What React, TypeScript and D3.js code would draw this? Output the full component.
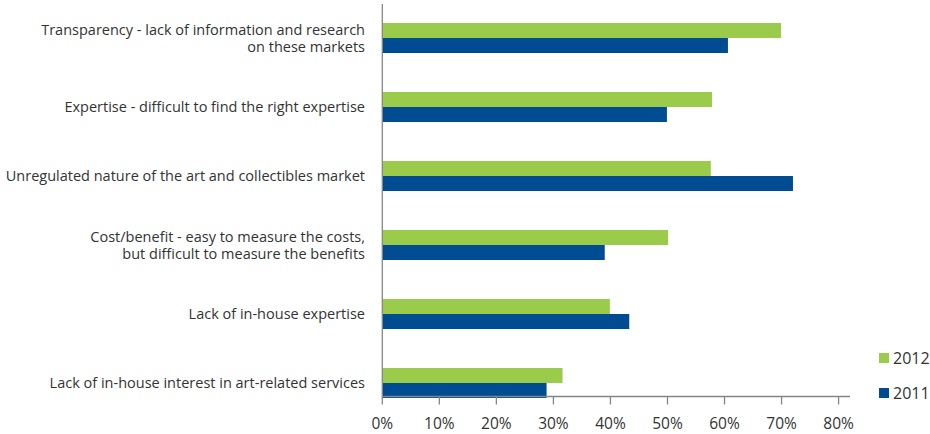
import React from "react";
import * as d3 from "d3";

const categories: string[][] = [
  ["Transparency - lack of information and research", "on these markets"],
  ["Expertise - difficult to find the right expertise"],
  ["Unregulated nature of the art and collectibles market"],
  ["Cost/benefit - easy to measure the costs,", "but difficult to measure the benefits"],
  ["Lack of in-house expertise"],
  ["Lack of in-house interest in art-related services"],
];
const values2012 = [0.699, 0.578, 0.576, 0.501, 0.399, 0.316];
const values2011 = [0.606, 0.499, 0.72, 0.39, 0.433, 0.288];
const ticks = [0, 0.1, 0.2, 0.3, 0.4, 0.5, 0.6, 0.7, 0.8];
const seriesNames = ["2012", "2011"];
const colors = ["#9BCB4A", "#004C93"];

const W = 930;
const H = 434;
const FONT = "'Open Sans', 'Noto Sans', sans-serif";

export default function App() {
  const x = d3.scaleLinear().domain([0, 0.82]).range([382.3, 850]);
  const y = d3
    .scaleBand<number>()
    .domain(d3.range(categories.length))
    .range([23, 398])
    .paddingInner(39 / 69)
    .paddingOuter(0);
  const bh = y.bandwidth() / 2;
  const axisY = 396.5;
  const axisColor = "#858585";
  const series = [values2012, values2011];

  return (
    <svg
      width={W}
      height={H}
      style={{ position: "absolute", left: 0, top: 0, background: "#fff" }}
      fontFamily={FONT}
    >
      {series.map((vals, si) =>
        vals.map((v, i) => (
          <rect
            key={`${si}-${i}`}
            x={x(0)}
            y={(y(i) as number) + si * bh}
            width={x(v) - x(0)}
            height={bh}
            fill={colors[si]}
          />
        ))
      )}
      {/* axes */}
      <line x1={x(0)} x2={x(0)} y1={4} y2={axisY} stroke={axisColor} strokeWidth={1.3} />
      <line x1={x(0)} x2={850} y1={axisY} y2={axisY} stroke={axisColor} strokeWidth={1.3} />
      {ticks.map((t) => (
        <g key={t}>
          <line x1={x(t)} x2={x(t)} y1={axisY} y2={axisY + 8} stroke={axisColor} strokeWidth={1.3} />
          <text
            x={x(t)}
            y={428.5}
            textAnchor="middle"
            fontSize={15.5}
            fill="#333"
          >
            {d3.format(".0%")(t)}
          </text>
        </g>
      ))}
      {/* category labels */}
      {categories.map((lines, i) => {
        const cy = (y(i) as number) + y.bandwidth() / 2;
        const lh = 17;
        const start = cy - ((lines.length - 1) * lh) / 2;
        return (
          <text key={i} textAnchor="end" fontSize={14.5} fill="#333">
            {lines.map((l, j) => (
              <tspan key={j} x={365} y={start + j * lh + 5}>
                {l}
              </tspan>
            ))}
          </text>
        );
      })}
      {/* legend */}
      {seriesNames.map((s, i) => (
        <g key={s} transform={`translate(879, ${353 + i * 35})`}>
          <rect x={0} y={0} width={10} height={10} fill={colors[i]} />
          <text x={14} y={10.5} fontSize={16} fill="#333">
            {s}
          </text>
        </g>
      ))}
    </svg>
  );
}
